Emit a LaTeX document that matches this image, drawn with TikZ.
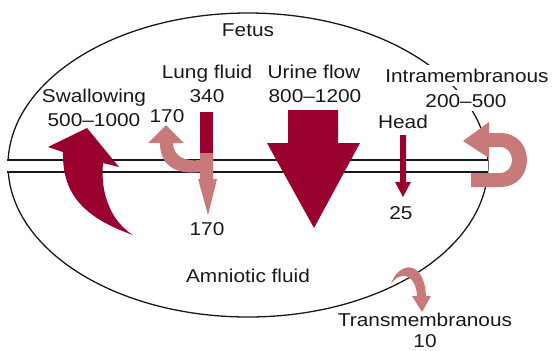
\documentclass[tikz,border=0pt]{standalone}
\usepackage{fontspec}
\usetikzlibrary{positioning}
\newfontfamily\lblfont{Liberation Sans}[FakeStretch=1.12, Ligatures=TeX]
\definecolor{flowdark}{RGB}{153,0,45}
\definecolor{flowpink}{RGB}{200,122,122}

\begin{document}
\begin{tikzpicture}[x=1pt, y=-1pt,
    lbl/.style={font=\lblfont\fontsize{18.6}{24}\selectfont, text=black!90, inner sep=0pt, anchor=base},
    rim/.style={draw=black!90, line width=1.3pt},
    darkflow/.style={fill=flowdark},
    lightflow/.style={fill=flowpink}]
    \useasboundingbox (0,0) rectangle (552,351);

    % amniotic sac and membrane band
    \draw[rim] (248,165) ellipse [x radius=240, y radius=152];
    \fill[white] (6,160) rectangle (488,172);
    \draw[rim] (7,160) -- (488,160);
    \draw[rim] (7,172) -- (488,172);

    % swallowing
    \fill[darkflow] (133,235) .. controls (85,218) and (62,195) .. (63,152) -- (48,147) -- (87,128)
        -- (119,167) -- (103,163) .. controls (100,195) and (112,222) .. (133,235) -- cycle;
    % lung fluid
    \fill[darkflow] (200,112) rectangle (213,153);
    \fill[lightflow] (200,153) -- (213,153) -- (213,179) -- (217,179) -- (208,215) -- (198,179)
        -- (200,179) -- (200,172) .. controls (175,175) and (160,165) .. (160,143) -- (148,143)
        -- (166,125) -- (184,143) -- (173,143) .. controls (173,156) and (185,162) .. (200,160) -- cycle;
    % urine flow
    \fill[darkflow] (288,110) -- (338,110) -- (338,143) -- (360,143) -- (314,228) -- (267,143)
        -- (288,143) -- cycle;
    % head
    \fill[darkflow] (400,135) -- (406,135) -- (406,182) -- (411,182) -- (403,197) -- (395,182)
        -- (400,182) -- cycle;
    % intramembranous
    \fill[lightflow] (489,122) -- (463,141) -- (489,158) -- (489,147) -- (500,147)
        .. controls (516,147) and (516,173) .. (500,173) -- (471,173) -- (471,187) -- (500,187)
        .. controls (536,187) and (536,133) .. (500,133) -- (489,133) -- cycle;
    % transmembranous
    \fill[lightflow] (391,284) .. controls (398,262) and (424,258) .. (426,296) -- (431,296)
        -- (422,312) -- (412,296) -- (417,296) .. controls (416,274) and (400,270) .. (391,284) -- cycle;

    % labels
    \node (fetus) [lbl] at (248,36) {Fetus};
    \node (swallow) [lbl] at (94,102) {Swallowing};
    \node (swallowval) [lbl] at (94,126) {500–1000};
    \node (lungback) [lbl] at (167,122) {170};
    \node (lung) [lbl] at (207,78) {Lung fluid};
    \node (lungval) [lbl] at (207,102) {340};
    \node (urine) [lbl] at (314,78) {Urine flow};
    \node (urineval) [lbl] at (315,102) {800–1200};
    \node (intra) [lbl, fill=white, inner xsep=2pt, inner ysep=4pt] at (467,82) {Intramembranous};
    \node (intraval) [lbl, fill=white, inner xsep=2pt, inner ysep=4pt] at (466,107) {200–500};
    \node (head) [lbl] at (403,128) {Head};
    \node (headval) [lbl] at (401,219) {25};
    \node (lungdown) [lbl] at (207,235) {170};
    \node (amnio) [lbl] at (248,282) {Amniotic fluid};
    \node (trans) [lbl] at (425,326) {Transmembranous};
    \node (transval) [lbl] at (425,347) {10};
\end{tikzpicture}
\end{document}
